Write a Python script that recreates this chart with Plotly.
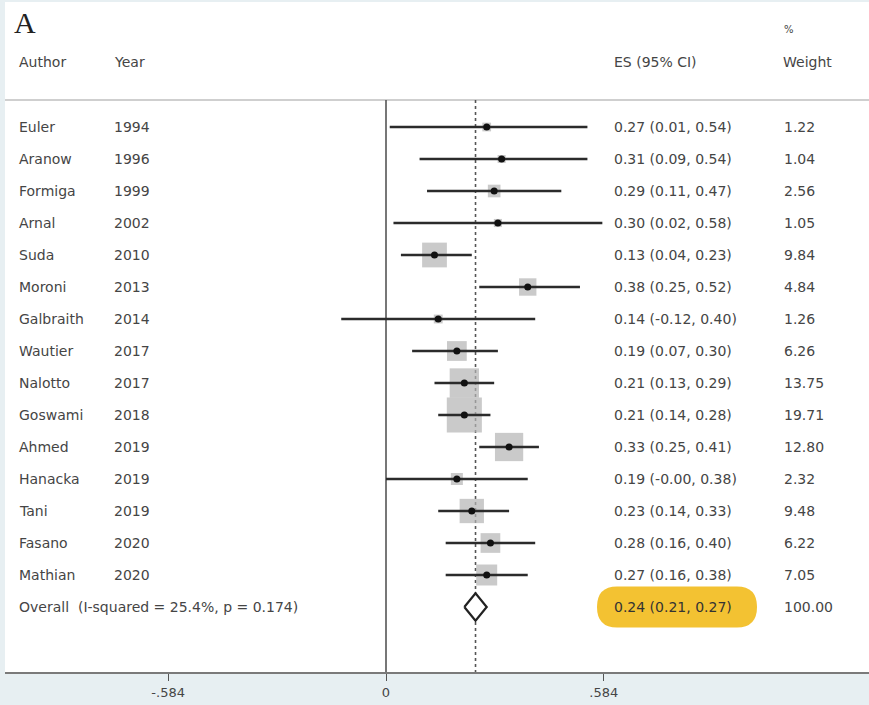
import plotly.graph_objects as go

# ---------------- data ----------------
authors = ["Euler", "Aranow", "Formiga", "Arnal", "Suda", "Moroni", "Galbraith",
           "Wautier", "Nalotto", "Goswami", "Ahmed", "Hanacka", "Tani", "Fasano", "Mathian"]
years = [1994, 1996, 1999, 2002, 2010, 2013, 2014, 2017, 2017, 2018, 2019, 2019, 2019, 2020, 2020]
es = [0.27, 0.31, 0.29, 0.30, 0.13, 0.38, 0.14, 0.19, 0.21, 0.21, 0.33, 0.19, 0.23, 0.28, 0.27]
ci_low = [0.01, 0.09, 0.11, 0.02, 0.04, 0.25, -0.12, 0.07, 0.13, 0.14, 0.25, -0.00, 0.14, 0.16, 0.16]
ci_high = [0.54, 0.54, 0.47, 0.58, 0.23, 0.52, 0.40, 0.30, 0.29, 0.28, 0.41, 0.38, 0.33, 0.40, 0.38]
weights = [1.22, 1.04, 2.56, 1.05, 9.84, 4.84, 1.26, 6.26, 13.75, 19.71, 12.80, 2.32, 9.48, 6.22, 7.05]

overall_label = "Overall  (I-squared = 25.4%, p = 0.174)"
overall_es = 0.24
overall_low = 0.21
overall_high = 0.27
overall_weight = 100.00

tick_vals = [-0.584, 0, 0.584]
tick_text = ["-.584", "0", ".584"]

# ---------------- layout constants ----------------
W, H = 869, 705
FONT = "DejaVu Sans"
TXT = "#454545"
rows = list(range(1, len(authors) + 1))
overall_row = len(authors) + 1

fig = go.Figure()

# weight boxes (area ~ weight)
fig.add_trace(go.Scatter(
    x=es, y=rows, mode="markers",
    marker=dict(symbol="square", size=[7.9 * w ** 0.5 for w in weights],
                color="#b3b3b3", line=dict(width=0)),
    hoverinfo="skip", showlegend=False))

# CI lines
cx, cy = [], []
for r, lo, hi in zip(rows, ci_low, ci_high):
    cx += [lo, hi, None]
    cy += [r, r, None]
fig.add_trace(go.Scatter(x=cx, y=cy, mode="lines",
                         line=dict(color="#2b2b2b", width=2.6),
                         hoverinfo="skip", showlegend=False))

# point estimates
fig.add_trace(go.Scatter(x=es, y=rows, mode="markers",
                         marker=dict(symbol="circle", size=7, color="#111111"),
                         hoverinfo="skip", showlegend=False))

# overall diamond
dh = 0.43
fig.add_trace(go.Scatter(
    x=[overall_low, overall_es, overall_high, overall_es, overall_low],
    y=[overall_row, overall_row - dh, overall_row, overall_row + dh, overall_row],
    mode="lines", fill="toself", fillcolor="white",
    line=dict(color="#222222", width=2.2),
    hoverinfo="skip", showlegend=False))

x_min = (5 - 386) / 373
x_max = (869 - 386) / 373
def row_of(py):
    return 1 + (py - 127) / 32
y_top = row_of(2)
y_bot = row_of(672)
line_top = row_of(100)

shapes = []
# header separator
shapes.append(dict(type="line", xref="paper", yref="y", x0=0, x1=1,
                   y0=line_top, y1=line_top, line=dict(color="#cfcfcf", width=2), layer="below"))
# zero line
shapes.append(dict(type="line", xref="x", yref="y", x0=0, x1=0,
                   y0=line_top, y1=y_bot, line=dict(color="#555555", width=1.6), layer="below"))
# overall dotted line
shapes.append(dict(type="line", xref="x", yref="y", x0=overall_es, x1=overall_es,
                   y0=line_top, y1=y_bot, line=dict(color="#555555", width=1.6, dash="dot"),
                   layer="below"))
# yellow highlight (rounded) behind overall ES text
hw, hh, rr = 80, 20.5, 20
path = (f"M {-hw+rr},{-hh} L {hw-rr},{-hh} Q {hw},{-hh} {hw},0 Q {hw},{hh} {hw-rr},{hh} "
        f"L {-hw+rr},{hh} Q {-hw},{hh} {-hw},0 Q {-hw},{-hh} {-hw+rr},{-hh} Z")
shapes.append(dict(type="path", xref="paper", yref="y", xsizemode="pixel", ysizemode="pixel",
                   xanchor=(677 - 5) / 864, yanchor=overall_row, path=path,
                   fillcolor="#f3c232", line=dict(width=0), layer="below"))

def px(p):
    return (p - 5) / 864

ann = []
def text(x, y, s, size=14, color=TXT, family=FONT, yref="y"):
    ann.append(dict(x=x, y=y, xref="paper", yref=yref, text=s, showarrow=False,
                    xanchor="left", yanchor="middle",
                    font=dict(family=family, size=size, color=color)))

# headers
text(px(12), row_of(22), "A", size=30, color="#222222", family="Liberation Serif")
text(px(17), row_of(62), "Author")
text(px(112), row_of(62), "Year")
text(px(612), row_of(62), "ES (95% CI)")
text(px(781), row_of(62), "Weight")
text(px(782), row_of(29), "%", size=10)

for r, a, yr, e, lo, hi, w in zip(rows, authors, years, es, ci_low, ci_high, weights):
    text(px(17), r, a)
    text(px(112), r, str(yr))
    text(px(612), r, f"{e:.2f} ({lo:.2f}, {hi:.2f})")
    text(px(782), r, f"{w:.2f}")

text(px(17), overall_row, overall_label)
text(px(612), overall_row, f"{overall_es:.2f} ({overall_low:.2f}, {overall_high:.2f})",
     color="#333333")
text(px(782), overall_row, f"{overall_weight:.2f}")

fig.update_layout(
    width=W, height=H,
    margin=dict(l=5, r=0, t=2, b=33),
    paper_bgcolor="#e7eff2",
    plot_bgcolor="white",
    showlegend=False,
    shapes=shapes,
    annotations=ann,
    xaxis=dict(range=[x_min, x_max], showgrid=False, zeroline=False,
               showline=True, linecolor="#7a7a7a", linewidth=2,
               ticks="outside", ticklen=7, tickwidth=1.3, tickcolor="#555555",
               tickvals=tick_vals, ticktext=tick_text,
               tickfont=dict(family=FONT, size=13, color=TXT), fixedrange=True),
    yaxis=dict(range=[y_bot, y_top], showgrid=False, zeroline=False,
               showline=False, showticklabels=False, ticks="", fixedrange=True),
)

fig.write_html("out.html", config={"displayModeBar": False},
               post_script="document.body.style.margin='0';document.body.style.overflow='hidden';")
